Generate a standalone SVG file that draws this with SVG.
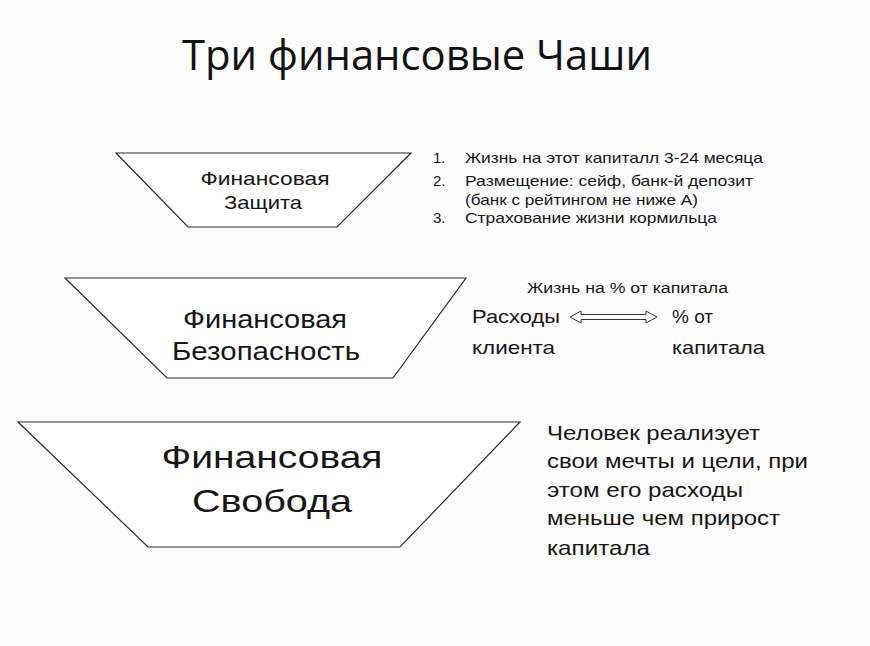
<svg xmlns="http://www.w3.org/2000/svg" width="870" height="646" viewBox="0 0 870 646">
<style>
.bowl{fill:#ffffff;stroke:#2a2a2a;stroke-width:1.2}
.t{font-family:"Liberation Sans",Arial,sans-serif;fill:#161616}
.c{text-anchor:middle}
.title{font-family:"Open Sans","Liberation Sans",sans-serif;fill:#111;font-size:42px;text-anchor:middle}
.arrow{fill:#ffffff;stroke:#333;stroke-width:1}
</style>
<rect x="0" y="0" width="870" height="646" fill="#fcfcfc"/>
<text class="title" x="417" y="70" textLength="470" lengthAdjust="spacingAndGlyphs">Три финансовые Чаши</text>

<g id="bowl-protection">
<polygon class="bowl" points="116,153 411,153 337,227 188,227"/>
<text class="t c" x="265" y="185" font-size="19" textLength="129" lengthAdjust="spacingAndGlyphs">Финансовая</text>
<text class="t c" x="263" y="209" font-size="19" textLength="78" lengthAdjust="spacingAndGlyphs">Защита</text>
</g>

<g id="protection-notes">
<text class="t" font-size="15" x="433" y="163">1.</text>
<text class="t" font-size="15" x="465" y="163" textLength="298" lengthAdjust="spacingAndGlyphs">Жизнь на этот капиталл 3-24 месяца</text>
<text class="t" font-size="15" x="433" y="186">2.</text>
<text class="t" font-size="15" x="465" y="186" textLength="288" lengthAdjust="spacingAndGlyphs">Размещение: сейф, банк-й депозит</text>
<text class="t" font-size="15" x="465" y="205" textLength="233" lengthAdjust="spacingAndGlyphs">(банк с рейтингом не ниже А)</text>
<text class="t" font-size="15" x="433" y="223">3.</text>
<text class="t" font-size="15" x="465" y="223" textLength="252" lengthAdjust="spacingAndGlyphs">Страхование жизни кормильца</text>
</g>

<g id="bowl-security">
<polygon class="bowl" points="65,278 466,278 393,378 167,378"/>
<text class="t c" x="265" y="328" font-size="25" textLength="164" lengthAdjust="spacingAndGlyphs">Финансовая</text>
<text class="t c" x="266" y="360" font-size="25" textLength="188" lengthAdjust="spacingAndGlyphs">Безопасность</text>
</g>

<g id="security-notes">
<text class="t" font-size="14" x="527" y="293" textLength="201" lengthAdjust="spacingAndGlyphs">Жизнь на % от капитала</text>
<text class="t" font-size="19" x="472" y="323" textLength="88" lengthAdjust="spacingAndGlyphs">Расходы</text>
<text class="t" font-size="19" x="472" y="354" textLength="83" lengthAdjust="spacingAndGlyphs">клиента</text>
<text class="t" font-size="19" x="672" y="323" textLength="41" lengthAdjust="spacingAndGlyphs">% от</text>
<text class="t" font-size="19" x="672" y="354" textLength="93" lengthAdjust="spacingAndGlyphs">капитала</text>
</g>

<g id="connectors">
<polygon class="arrow" points="570,317 581,311 581,314.5 646,314.5 646,311 657,317 646,323 646,319.5 581,319.5 581,323"/>
</g>

<g id="bowl-freedom">
<polygon class="bowl" points="18,422 520,422 400,547 148,547"/>
<text class="t c" x="272" y="468" font-size="32" textLength="221" lengthAdjust="spacingAndGlyphs">Финансовая</text>
<text class="t c" x="272" y="512" font-size="32" textLength="160" lengthAdjust="spacingAndGlyphs">Свобода</text>
</g>

<g id="freedom-notes">
<text class="t" font-size="21" x="547" y="440" textLength="213" lengthAdjust="spacingAndGlyphs">Человек реализует</text>
<text class="t" font-size="21" x="547" y="468" textLength="261" lengthAdjust="spacingAndGlyphs">свои мечты и цели, при</text>
<text class="t" font-size="21" x="547" y="497" textLength="196" lengthAdjust="spacingAndGlyphs">этом его расходы</text>
<text class="t" font-size="21" x="547" y="525" textLength="233" lengthAdjust="spacingAndGlyphs">меньше чем прирост</text>
<text class="t" font-size="21" x="547" y="555" textLength="103" lengthAdjust="spacingAndGlyphs">капитала</text>
</g>
</svg>
